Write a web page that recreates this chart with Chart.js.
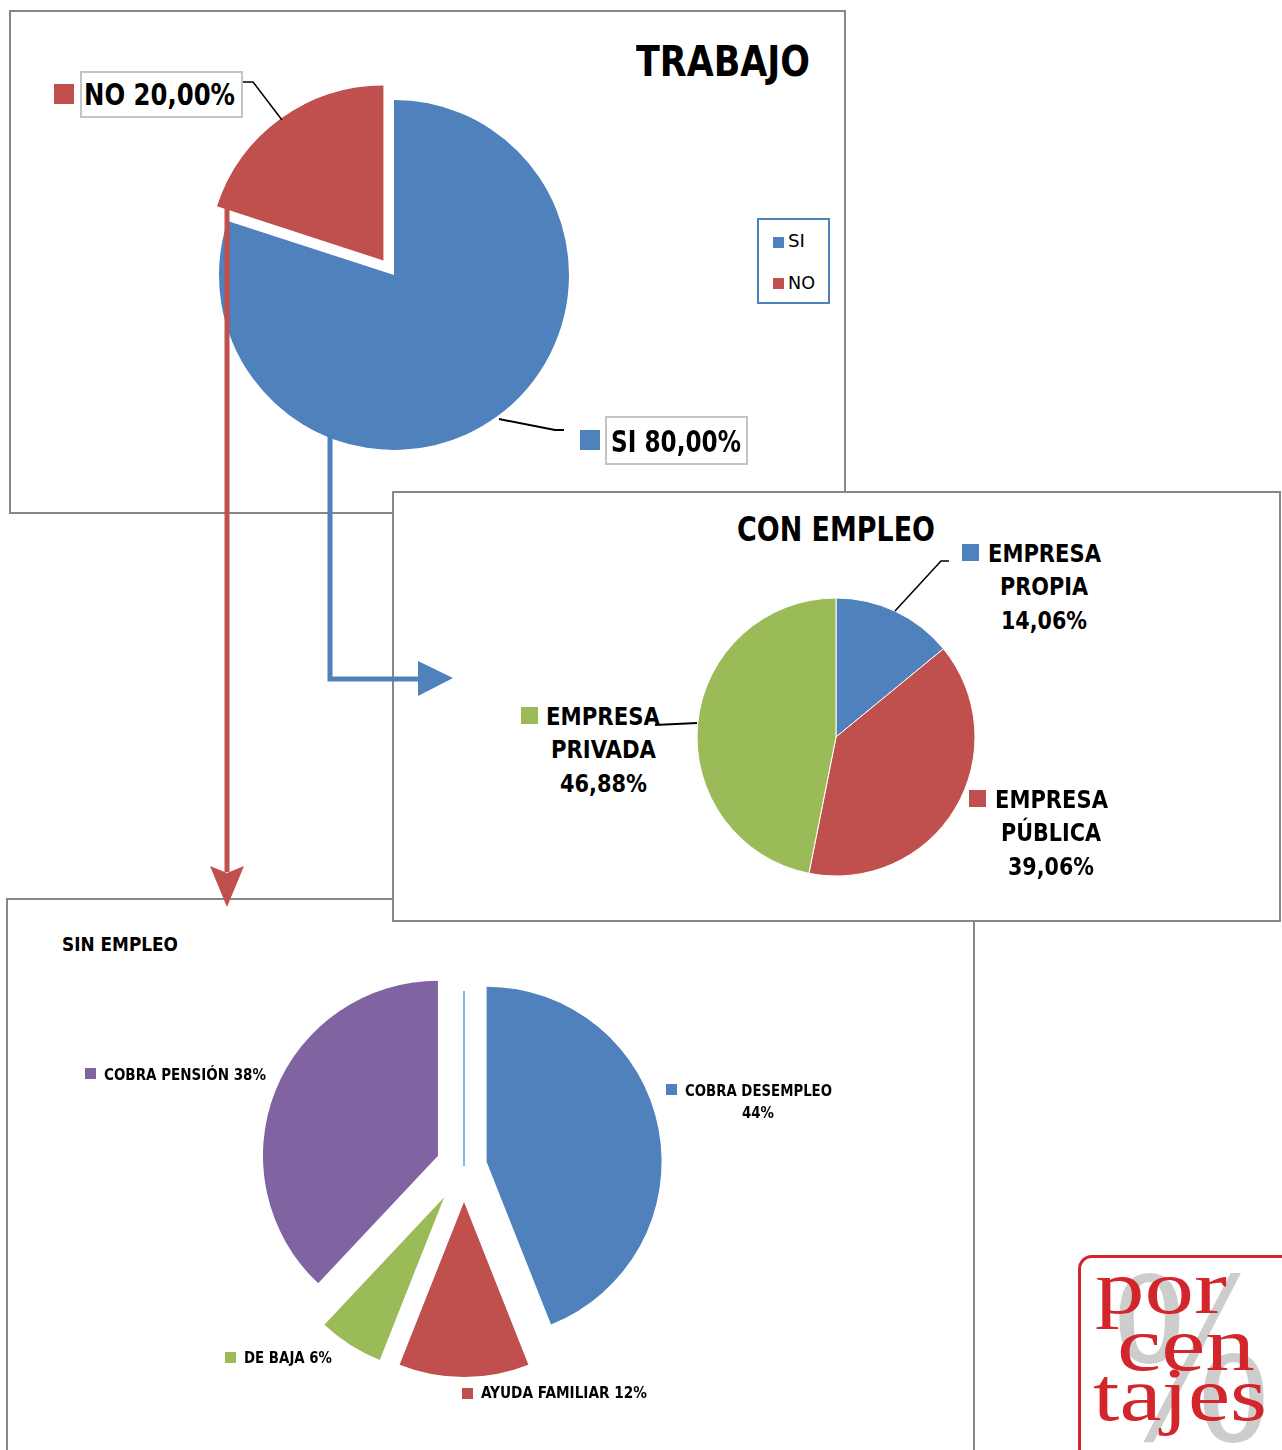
<!DOCTYPE html>
<html lang="es">
<head>
<meta charset="utf-8">
<title>Trabajo</title>
<script src="https://cdn.jsdelivr.net/npm/chart.js@4.4.1/dist/chart.umd.min.js"></script>
<style>
  body { margin: 0; background: #fff; }
  #page { position: relative; width: 1282px; height: 1450px; overflow: hidden;
          font-family: "Liberation Sans Narrow", "DejaVu Sans Condensed", "DejaVu Sans", sans-serif; }
  .frame { position: absolute; background: #fff; border: 2px solid #878787; box-sizing: border-box; }
  .pie { position: absolute; z-index: 10; }
  .box { position: absolute; z-index: 11; box-sizing: border-box; border: 2px solid #c4c4c4; background: #fff; }
  .key { position: absolute; z-index: 12; }
  .txt { position: absolute; left: 0; z-index: 12; line-height: 1; white-space: nowrap; font-weight: bold; color: #000; }
  .logo { position: absolute; z-index: 5; left: 1078px; top: 1255px; width: 230px; height: 240px;
          box-sizing: border-box; border: 3px solid #d3252c; border-radius: 14px; background: #fff; }
  svg.over { position: absolute; left: 0; top: 0; z-index: 20; }
</style>
</head>
<body>
<div id="page">
  <div class="frame" style="left:6px;top:898px;width:969px;height:600px;z-index:1"></div>
  <div class="frame" style="left:9px;top:10px;width:837px;height:504px;z-index:2"></div>
  <div class="frame" style="left:392px;top:491px;width:889px;height:431px;z-index:3"></div>
  <div class="logo"></div>

  <svg class="over" width="1282" height="1450">
    <!-- flecha roja -->
    <line x1="227" y1="207" x2="227" y2="872" stroke="#C0504D" stroke-width="5"/>
    <polygon points="210,866 227,873 244,866 227,907" fill="#C0504D"/>
    <!-- flecha azul -->
    <polyline points="330,430 330,679 421,679" fill="none" stroke="#4F81BD" stroke-width="5"/>
    <polygon points="418,661 453,678 418,696" fill="#4F81BD"/>
    <!-- guias -->
    <polyline points="243,82 253,82 282,120" fill="none" stroke="#000" stroke-width="1.5"/>
    <polyline points="564,430 555,430 499,419" fill="none" stroke="#000" stroke-width="2"/>
    <polyline points="949,561 941,561 895,611" fill="none" stroke="#000" stroke-width="1.5"/>
    <polyline points="655,725 697,723" fill="none" stroke="#000" stroke-width="2"/>
  </svg>
</div>

<script>
  // datos
  var trabajoLabels = ['SI', 'NO'];
  var trabajoValores = [80, 20];

  var conLabels = ['EMPRESA PROPIA', 'EMPRESA PÚBLICA', 'EMPRESA PRIVADA'];
  var conValores = [14.06, 39.06, 46.88];

  var sinLabels = ['COBRA DESEMPLEO', 'AYUDA FAMILIAR', 'DE BAJA', 'COBRA PENSIÓN', ''];
  var sinValores = [44, 12, 6, 38, 0];

  var colores = ['#4F81BD', '#C0504D', '#9BBB59', '#8064A2', '#4BACC6'];

  var page = document.getElementById('page');

  function pct(vals, i, dec) {
    var tot = vals.reduce(function (a, b) { return a + b; }, 0);
    return (vals[i] / tot * 100).toFixed(dec).replace('.', ',') + '%';
  }

  // texto con la linea base en y; si se da un ancho se estrecha hasta ese ancho
  function texto(str, x, base, size, align, width, extra) {
    extra = extra || {};
    var d = document.createElement('div');
    d.className = 'txt';
    d.textContent = str;
    d.style.fontSize = size + 'px';
    var asc = 0.8465;
    if (extra.serif) {
      d.style.fontFamily = '"Liberation Serif", "DejaVu Serif", serif';
      asc = 0.8375;
    }
    if (extra.normal || extra.serif) d.style.fontWeight = 'normal';
    if (extra.color) d.style.color = extra.color;
    if (extra.z) d.style.zIndex = extra.z;
    d.style.top = (base - asc * size) + 'px';
    page.appendChild(d);
    var nat = d.getBoundingClientRect().width;
    var w = width || nat;
    var left = align === 'center' ? x - w / 2 : (align === 'right' ? x - w : x);
    d.style.left = left + 'px';
    d.style.transformOrigin = '0 0';
    d.style.transform = 'scaleX(' + (w / nat) + ')';
  }

  function cuadro(x, y, s, color) {
    var d = document.createElement('div');
    d.className = 'key';
    d.style.cssText = 'left:' + x + 'px;top:' + y + 'px;width:' + s + 'px;height:' + s + 'px;background:' + color;
    page.appendChild(d);
  }

  function caja(x, y, w, h, borde) {
    var d = document.createElement('div');
    d.className = 'box';
    d.style.cssText = 'left:' + x + 'px;top:' + y + 'px;width:' + w + 'px;height:' + h + 'px;' + (borde || '');
    page.appendChild(d);
  }

  // dibuja cada porcion desplazada hacia fuera (explosion tipo Excel)
  var explodePlugin = {
    id: 'explode',
    beforeDatasetDraw: function (chart, args, opts) {
      var dist = opts.distances || [];
      var ctx = chart.ctx;
      args.meta.data.forEach(function (arc, i) {
        var d = dist[i] || 0;
        var mid = (arc.startAngle + arc.endAngle) / 2;
        ctx.save();
        ctx.translate(Math.cos(mid) * d, Math.sin(mid) * d);
        if (arc.circumference === 0) {
          // porcion de valor 0: solo una linea
          ctx.strokeStyle = arc.options.backgroundColor;
          ctx.lineWidth = 1.5;
          ctx.beginPath();
          ctx.moveTo(arc.x, arc.y);
          ctx.lineTo(arc.x + Math.cos(arc.startAngle) * arc.outerRadius, arc.y + Math.sin(arc.startAngle) * arc.outerRadius);
          ctx.stroke();
        } else {
          arc.draw(ctx);
        }
        ctx.restore();
      });
      return false;
    }
  };

  function tarta(left, top, size, labels, values, radius, explode, bw) {
    var wrap = document.createElement('div');
    wrap.className = 'pie';
    wrap.style.cssText = 'left:' + left + 'px;top:' + top + 'px;width:' + size + 'px;height:' + size + 'px';
    var cv = document.createElement('canvas');
    wrap.appendChild(cv);
    page.appendChild(wrap);
    return new Chart(cv, {
      type: 'pie',
      data: {
        labels: labels,
        datasets: [{
          data: values,
          backgroundColor: colores.slice(0, values.length),
          borderColor: '#fff',
          borderWidth: bw
        }]
      },
      options: {
        responsive: true,
        maintainAspectRatio: false,
        animation: false,
        events: [],
        radius: radius,
        layout: { padding: 0 },
        plugins: {
          legend: { display: false },
          tooltip: { enabled: false },
          explode: { distances: explode }
        }
      },
      plugins: [explodePlugin]
    });
  }

  // TRABAJO
  tarta(194, 75, 400, trabajoLabels, trabajoValores, 175, [0, 18], 0);
  texto('TRABAJO', 810, 77, 42, 'right', 174);
  cuadro(54, 84, 20, colores[1]);
  caja(80, 71, 163, 47);
  texto(trabajoLabels[1] + ' ' + pct(trabajoValores, 1, 2), 84, 105, 30, 'left', 151);
  cuadro(580, 430, 20, colores[0]);
  caja(605, 416, 143, 49);
  texto(trabajoLabels[0] + ' ' + pct(trabajoValores, 0, 2), 611, 452, 30, 'left', 130);
  caja(757, 218, 73, 86, 'border:2.5px solid #4F81BD;');
  trabajoLabels.forEach(function (l, i) {
    cuadro(773, 237 + i * 41, 11, colores[i]);
    texto(l, 788, 247 + i * 42, 18, 'left', i === 0 ? 17 : 27, { normal: true });
  });

  // CON EMPLEO
  tarta(676, 577, 320, conLabels, conValores, 139, [0, 0, 0], 1);
  texto('CON EMPLEO', 836, 541, 33, 'center', 198);
  var conPos = [[1044, 562, 962, 544], [1051, 808, 969, 790], [603, 725, 521, 707]];
  var conAnchos = [[113, 88, 86], [113, 100, 86], [114, 105, 87]];
  conLabels.forEach(function (l, i) {
    var p = conPos[i];
    var lineas = l.split(' ').concat([pct(conValores, i, 2)]);
    lineas.forEach(function (s, k) { texto(s, p[0], p[1] + k * 33.5, 25, 'center', conAnchos[i][k]); });
    cuadro(p[2], p[3], 17, colores[i]);
  });

  // SIN EMPLEO
  tarta(234, 936, 460, sinLabels, sinValores, 175, [23, 36, 37, 28, 0], 0);
  texto('SIN EMPLEO', 62, 951, 19, 'left', 116);
  texto(sinLabels[0], 758, 1097, 16, 'center', 147);
  texto(pct(sinValores, 0, 0), 758, 1119, 16, 'center', 32);
  cuadro(666, 1084, 11, colores[0]);
  texto(sinLabels[1] + ' ' + pct(sinValores, 1, 0), 481, 1399, 16, 'left', 166);
  cuadro(462, 1388, 11, colores[1]);
  texto(sinLabels[2] + ' ' + pct(sinValores, 2, 0), 244, 1364, 16, 'left', 88);
  cuadro(225, 1352, 11, colores[2]);
  texto(sinLabels[3] + ' ' + pct(sinValores, 3, 0), 104, 1081, 16, 'left', 162);
  cuadro(85, 1068, 11, colores[3]);

  // logotipo
  texto('%', 1113, 1440, 250, 'left', 157, { serif: true, color: '#cdcdcd', z: 6 });
  texto('por', 1095, 1313, 76, 'left', 132, { serif: true, color: '#d3252c', z: 7 });
  texto('cen', 1117, 1370, 76, 'left', 138, { serif: true, color: '#d3252c', z: 7 });
  texto('tajes', 1093, 1420, 76, 'left', 174, { serif: true, color: '#d3252c', z: 7 });
</script>
</body>
</html>
